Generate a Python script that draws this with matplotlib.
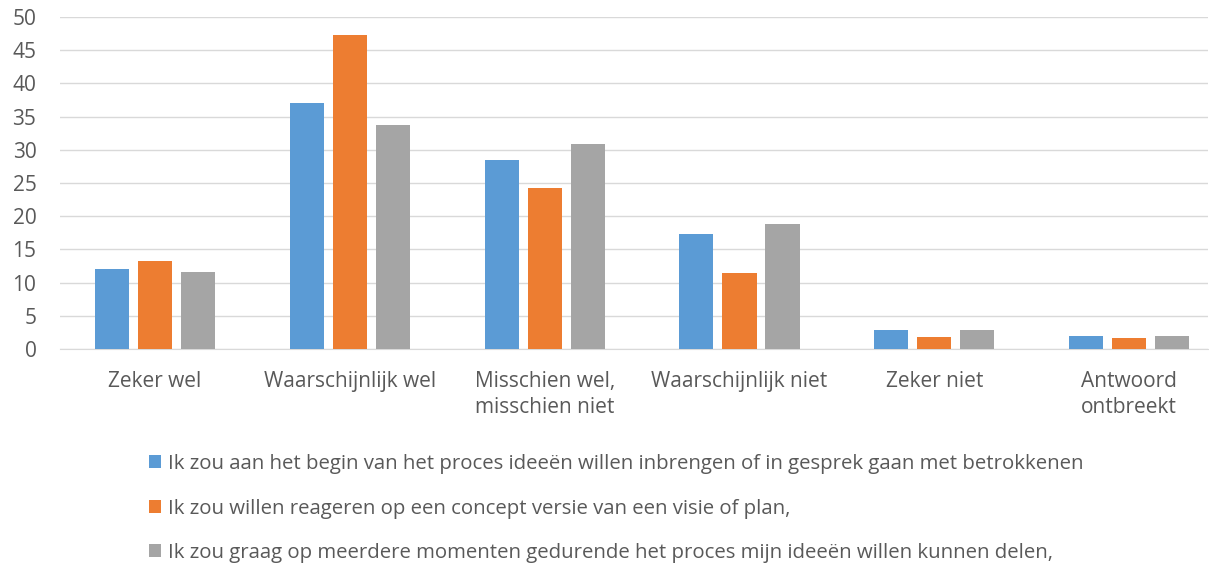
import matplotlib.pyplot as plt
import numpy as np

categories = ["Zeker wel", "Waarschijnlijk wel", "Misschien wel,\nmisschien niet",
              "Waarschijnlijk niet", "Zeker niet", "Antwoord\nontbreekt"]
begin = [12.1, 37.1, 28.5, 17.3, 2.9, 2.0]
concept = [13.2, 47.3, 24.3, 11.4, 1.8, 1.7]
meerdere = [11.6, 33.7, 30.9, 18.8, 2.8, 2.0]
series_labels = [
    "Ik zou aan het begin van het proces ideeën willen inbrengen of in gesprek gaan met betrokkenen",
    "Ik zou willen reageren op een concept versie van een visie of plan,",
    "Ik zou graag op meerdere momenten gedurende het proces mijn ideeën willen kunnen delen,",
]
colors = ["#5b9bd5", "#ed7d31", "#a5a5a5"]

plt.rcParams['font.family'] = ['Open Sans', 'DejaVu Sans']
txt = "#595959"

fig = plt.figure(figsize=(12.09, 5.65), dpi=100)
ax = fig.add_axes([60/1209, 1-349/565, 1148/1209, 332/565])

x = np.arange(len(categories))
w = 0.175
off = 0.221
for i, vals in enumerate([begin, concept, meerdere]):
    ax.bar(x + (i-1)*off, vals, w, color=colors[i], label=series_labels[i], zorder=3)

ax.set_xlim(-0.488, 5.405)
ax.set_ylim(0, 50)
ax.set_yticks(range(0, 51, 5))
ax.yaxis.grid(True, color="#d9d9d9", linewidth=1, zorder=0)
for s in ["top", "right", "left"]:
    ax.spines[s].set_visible(False)
ax.spines["bottom"].set_color("#d9d9d9")
ax.tick_params(axis="both", length=0, labelsize=15, colors=txt)
ax.tick_params(axis="x", pad=16)
ax.tick_params(axis="y", pad=17)
ax.set_xticks(x)
ax.set_xticklabels(categories, linespacing=1.3)

fig.legend(loc="upper left", bbox_to_anchor=(141/1209, 1-446/565), frameon=False,
           fontsize=14.7, labelcolor=txt, handlelength=0.6, handleheight=0.6,
           handletextpad=0.3, labelspacing=1.2, borderaxespad=0)

fig.savefig("out.png", dpi=100)
